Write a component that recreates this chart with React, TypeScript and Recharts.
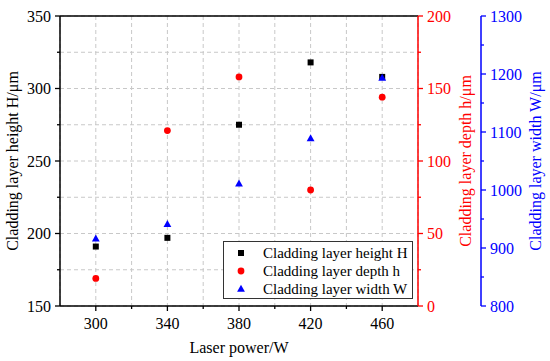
import React from 'react';
import { ScatterChart, Scatter, XAxis, YAxis, CartesianGrid, Legend, ReferenceLine } from 'recharts';

const power = [300, 340, 380, 420, 460];
const heightH = [191, 197, 275, 318, 308];
const depthD = [19, 121, 158, 80, 144];
const widthW = [916, 941, 1011, 1089, 1193];

const xTicks = [280, 300, 320, 340, 360, 380, 400, 420, 440, 460, 480];
const xMajor = [300, 340, 380, 420, 460];
const hTicks = [150, 175, 200, 225, 250, 275, 300, 325, 350];
const hMajor = [150, 200, 250, 300, 350];
const dTicks = [0, 25, 50, 75, 100, 125, 150, 175, 200];
const dMajor = [0, 50, 100, 150, 200];
const wTicks = [800, 850, 900, 950, 1000, 1050, 1100, 1150, 1200, 1250, 1300];
const wMajor = [800, 900, 1000, 1100, 1200, 1300];

const labelH = 'Cladding layer height H';
const labelD = 'Cladding layer depth h';
const labelW = 'Cladding layer width W';

const FONT = '"Liberation Serif", "Times New Roman", serif';
const RED = '#ff0000';
const BLUE = '#0000ff';
const TXT: React.CSSProperties = { fontFamily: FONT, fontSize: 16 };

const hData = power.map((x, i) => ({ x, y: heightH[i] }));
const dData = power.map((x, i) => ({ x, y: depthD[i] }));
const wData = power.map((x, i) => ({ x, y: widthW[i] }));

const Square = (p: any) => (
  <rect x={p.cx - 3} y={p.cy - 3} width={6} height={6} fill="#000" />
);
const Dot = (p: any) => <circle cx={p.cx} cy={p.cy} r={3.4} fill={RED} />;
const Tri = (p: any) => (
  <polygon
    points={`${p.cx},${p.cy - 4.2} ${p.cx - 3.9},${p.cy + 2.8} ${p.cx + 3.9},${p.cy + 2.8}`}
    fill={BLUE}
  />
);

const XTick = (p: any) => {
  const v = p.payload.value;
  if (v === 280 || v === 480) return <g />;
  const major = xMajor.includes(v);
  return (
    <g>
      <line x1={p.x} x2={p.x} y1={p.y} y2={p.y + (major ? 5 : 3)} stroke="#000" strokeWidth={1.3} />
      {major && (
        <text x={p.x} y={p.y + 23} textAnchor="middle" fill="#000" style={TXT}>
          {v}
        </text>
      )}
    </g>
  );
};

const makeYTick = (majors: number[], color: string, side: 'left' | 'right') => (p: any) => {
  const v = p.payload.value;
  const major = majors.includes(v);
  const s = side === 'left' ? -1 : 1;
  const len = major ? 5 : 3;
  return (
    <g>
      <line x1={p.x} x2={p.x + s * len} y1={p.y} y2={p.y} stroke={color} strokeWidth={1.3} />
      {major && (
        <text
          x={p.x + s * 9}
          y={p.y + 5.5}
          textAnchor={side === 'left' ? 'end' : 'start'}
          fill={color}
          style={TXT}
        >
          {v}
        </text>
      )}
    </g>
  );
};

const HTick = makeYTick(hMajor, '#000', 'left');
const DTick = makeYTick(dMajor, RED, 'right');
const WTick = makeYTick(wMajor, BLUE, 'right');

const VLabel = (props: any) => {
  const { bx, by, text, color } = props;
  return (
    <text
      x={bx}
      y={by}
      transform={`rotate(-90 ${bx} ${by})`}
      textAnchor="middle"
      fill={color}
      style={TXT}
    >
      {text}
    </text>
  );
};

const XLabel = () => (
  <text x={239} y={353} textAnchor="middle" fill="#000" style={TXT}>
    Laser power/W
  </text>
);

const legendItems = [
  { name: labelH, kind: 'square' },
  { name: labelD, kind: 'circle' },
  { name: labelW, kind: 'triangle' },
];

const LegendBox = () => (
  <div
    style={{
      width: 190,
      height: 58,
      boxSizing: 'border-box',
      border: '1px solid #333',
      background: '#fff',
      paddingTop: 2,
      fontFamily: FONT,
      fontSize: 15,
      color: '#000',
    }}
  >
    {legendItems.map((it) => (
      <div key={it.name} style={{ height: 18, lineHeight: '18px', display: 'flex', alignItems: 'center' }}>
        <svg width={34} height={18} style={{ display: 'block', flex: 'none' }}>
          {it.kind === 'square' && <rect x={14} y={6} width={6} height={6} fill="#000" />}
          {it.kind === 'circle' && <circle cx={17} cy={9} r={3.4} fill={RED} />}
          {it.kind === 'triangle' && <polygon points="17,4.8 13.1,11.8 20.9,11.8" fill={BLUE} />}
        </svg>
        <span style={{ marginLeft: 5, whiteSpace: 'nowrap' }}>{it.name}</span>
      </div>
    ))}
  </div>
);

export default function App() {
  return (
    <div style={{ position: 'absolute', left: 0, top: 0, width: 550, height: 361, background: '#fff', fontFamily: FONT }}>
      <ScatterChart
        width={550}
        height={361}
        margin={{ top: 16, right: 0, bottom: 0, left: 0 }}
        style={{ fontFamily: FONT }}
      >
        <CartesianGrid yAxisId="H" stroke="#c8c8c8" strokeDasharray="4 3" strokeWidth={1} />
        <XAxis
          dataKey="x"
          type="number"
          domain={[280, 480]}
          ticks={xTicks}
          interval={0}
          height={55}
          tickSize={0}
          tickMargin={0}
          tickLine={false}
          tick={XTick}
          axisLine={{ stroke: '#000', strokeWidth: 1.5 }}
          label={<XLabel />}
        />
        <YAxis
          yAxisId="H"
          dataKey="y"
          type="number"
          domain={[150, 350]}
          ticks={hTicks}
          interval={0}
          width={60}
          tickSize={0}
          tickMargin={0}
          tickLine={false}
          tick={HTick}
          axisLine={{ stroke: '#000', strokeWidth: 1.5 }}
          label={<VLabel bx={18} by={161} text="Cladding layer height H/μm" color="#000" />}
        />
        <YAxis
          yAxisId="D"
          orientation="right"
          dataKey="y"
          type="number"
          domain={[0, 200]}
          ticks={dTicks}
          interval={0}
          width={63}
          tickSize={0}
          tickMargin={0}
          tickLine={false}
          tick={DTick}
          axisLine={{ stroke: RED, strokeWidth: 1.5 }}
          label={<VLabel bx={471} by={161} text="Cladding layer depth h/μm" color={RED} />}
        />
        <YAxis
          yAxisId="W"
          orientation="right"
          dataKey="y"
          type="number"
          domain={[800, 1300]}
          ticks={wTicks}
          interval={0}
          width={69}
          tickSize={0}
          tickMargin={0}
          tickLine={false}
          tick={WTick}
          axisLine={{ stroke: BLUE, strokeWidth: 1.5 }}
          label={<VLabel bx={541} by={161} text="Cladding layer width W/μm" color={BLUE} />}
        />
        <ReferenceLine yAxisId="H" y={350} stroke="#000" strokeWidth={1.5} />
        <Scatter name={labelH} data={hData} yAxisId="H" fill="#000" shape={Square} isAnimationActive={false} />
        <Scatter name={labelD} data={dData} yAxisId="D" fill={RED} shape={Dot} isAnimationActive={false} />
        <Scatter name={labelW} data={wData} yAxisId="W" fill={BLUE} shape={Tri} isAnimationActive={false} />
        <Legend
          layout="horizontal"
          verticalAlign="middle"
          align="center"
          wrapperStyle={{ left: 223, top: 241, width: 190, height: 58 }}
          content={() => <LegendBox />}
        />
      </ScatterChart>
    </div>
  );
}
